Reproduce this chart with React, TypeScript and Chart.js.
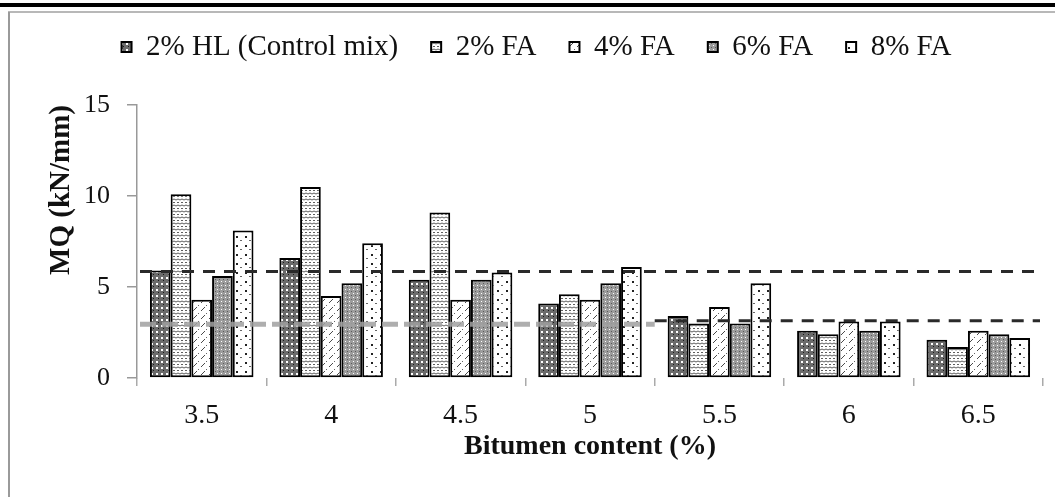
import React, { useEffect, useRef } from 'react';
import { Chart, registerables } from 'chart.js';

Chart.register(...registerables);

const categories = ['3.5', '4', '4.5', '5', '5.5', '6', '6.5'];
const seriesNames = ['2% HL (Control mix)', '2% FA', '4% FA', '6% FA', '8% FA'];
const hl2 = [5.9, 6.6, 5.4, 4.1, 3.4, 2.6, 2.1];
const fa2 = [10.1, 10.5, 9.1, 4.6, 3.0, 2.4, 1.7];
const fa4 = [4.3, 4.5, 4.3, 4.3, 3.9, 3.1, 2.6];
const fa6 = [5.6, 5.2, 5.4, 5.2, 3.0, 2.6, 2.4];
const fa8 = [8.1, 7.4, 5.8, 6.1, 5.2, 3.1, 2.2];
const yTicks = [0, 5, 10, 15];
const upperLimit = 5.85;
const lowerLimitEarly = 2.95;
const lowerLimitLate = 3.15;

const FONT = "'Liberation Serif', 'Times New Roman', serif";

function makePattern(kind: number): CanvasPattern | string {
  const c = document.createElement('canvas');
  const ctx = c.getContext('2d');
  if (!ctx) return '#888';
  if (kind === 0) {
    c.width = 5; c.height = 6;
    ctx.fillStyle = '#6b6b6b'; ctx.fillRect(0, 0, 5, 6);
    ctx.fillStyle = '#ffffff'; ctx.fillRect(1, 1, 2, 2);
    ctx.fillStyle = '#1a1a1a'; ctx.fillRect(3, 4, 1, 1);
  } else if (kind === 1) {
    c.width = 8; c.height = 6;
    ctx.fillStyle = '#ffffff'; ctx.fillRect(0, 0, 8, 6);
    ctx.strokeStyle = '#5e5e5e'; ctx.lineWidth = 1;
    ctx.beginPath();
    ctx.moveTo(0, 2); ctx.lineTo(2, 1); ctx.lineTo(4, 2); ctx.lineTo(6, 1); ctx.lineTo(8, 2);
    ctx.moveTo(1, 4.5); ctx.lineTo(3, 4.5);
    ctx.moveTo(5, 4.5); ctx.lineTo(7, 4.5);
    ctx.stroke();
  } else if (kind === 2) {
    c.width = 8; c.height = 8;
    ctx.fillStyle = '#ffffff'; ctx.fillRect(0, 0, 8, 8);
    ctx.strokeStyle = '#4a4a4a'; ctx.lineWidth = 1;
    ctx.beginPath();
    ctx.moveTo(1, 7); ctx.lineTo(5, 3);
    ctx.stroke();
    ctx.fillStyle = '#666'; ctx.fillRect(6, 1, 1, 1);
  } else if (kind === 3) {
    c.width = 4; c.height = 4;
    ctx.fillStyle = '#9c9c9c'; ctx.fillRect(0, 0, 4, 4);
    ctx.fillStyle = '#ffffff'; ctx.fillRect(1, 1, 1, 1);
    ctx.fillStyle = '#5a5a5a'; ctx.fillRect(3, 3, 1, 1);
  } else {
    c.width = 9; c.height = 9;
    ctx.fillStyle = '#ffffff'; ctx.fillRect(0, 0, 9, 9);
    ctx.fillStyle = '#222222'; ctx.fillRect(2, 2, 2, 2);
    ctx.fillStyle = '#666666'; ctx.fillRect(6, 6, 2, 1);
  }
  const p = ctx.createPattern(c, 'repeat');
  return p || '#888';
}

const framePlugin = {
  id: 'frame',
  beforeDraw(chart: any) {
    const ctx = chart.ctx;
    ctx.save();
    ctx.fillStyle = '#ffffff';
    ctx.fillRect(0, 0, chart.width, chart.height);
    ctx.fillStyle = '#000000';
    ctx.fillRect(0, 3, chart.width, 4);
    ctx.strokeStyle = '#b8b8b8';
    ctx.lineWidth = 2;
    ctx.beginPath();
    ctx.moveTo(8, 12);
    ctx.lineTo(chart.width, 12);
    ctx.stroke();
    ctx.strokeStyle = '#9a9a9a';
    ctx.beginPath();
    ctx.moveTo(9, 12);
    ctx.lineTo(9, chart.height);
    ctx.stroke();
    ctx.restore();
  },
};

const legendSpacer = {
  id: 'legendSpacer',
  beforeLayout(chart: any) {
    const lg = chart.legend;
    if (lg && !lg.__patched) {
      const orig = lg.fit;
      lg.fit = function () {
        orig.call(this);
        this.height += 33.5;
      };
      lg.__patched = true;
    }
  },
};

const refLinePlugin = {
  id: 'refLines',
  afterDatasetsDraw(chart: any) {
    const { ctx, chartArea } = chart;
    const xs = chart.scales.x;
    const ys = chart.scales.y;
    const left = chartArea.left + 3;
    const right = chartArea.right - 3;
    const boundary = (xs.getPixelForValue(3) + xs.getPixelForValue(4)) / 2;
    ctx.save();
    ctx.setLineDash([12, 9]);
    ctx.lineWidth = 3;
    ctx.strokeStyle = '#2a2a2a';
    let y = ys.getPixelForValue(upperLimit);
    ctx.beginPath(); ctx.moveTo(left, y); ctx.lineTo(right, y); ctx.stroke();
    ctx.setLineDash([16, 6]);
    ctx.lineWidth = 5;
    ctx.strokeStyle = 'rgba(160,160,160,0.85)';
    y = ys.getPixelForValue(lowerLimitEarly);
    ctx.beginPath(); ctx.moveTo(left, y); ctx.lineTo(boundary, y); ctx.stroke();
    ctx.setLineDash([12, 9]);
    ctx.lineWidth = 3;
    ctx.strokeStyle = '#2a2a2a';
    y = ys.getPixelForValue(lowerLimitLate);
    ctx.beginPath(); ctx.moveTo(boundary, y); ctx.lineTo(right, y); ctx.stroke();
    ctx.restore();
  },
};

export default function App() {
  const ref = useRef<HTMLCanvasElement | null>(null);

  useEffect(() => {
    if (!ref.current) return;
    const series = [hl2, fa2, fa4, fa6, fa8];
    const chart = new Chart(ref.current, {
      type: 'bar',
      data: {
        labels: categories,
        datasets: series.map((d, i) => ({
          label: seriesNames[i],
          data: d,
          backgroundColor: makePattern(i) as any,
          borderColor: '#000000',
          borderWidth: 2,
          borderSkipped: false,
          categoryPercentage: 0.8,
          barPercentage: 1.0,
        })),
      },
      options: {
        animation: false,
        responsive: true,
        maintainAspectRatio: false,
        layout: { padding: { top: -0.5, left: 30, right: 12, bottom: 0 } },
        plugins: {
          tooltip: { enabled: false },
          legend: {
            position: 'top',
            labels: {
              font: { family: FONT, size: 29 },
              color: '#111111',
              boxWidth: 10,
              boxHeight: 10,
              padding: 33,
            },
          },
        },
        scales: {
          x: {
            offset: true,
            grid: {
              offset: true,
              drawOnChartArea: false,
              drawTicks: true,
              tickLength: 8,
              color: '#aaaaaa',
              lineWidth: 1.5,
            },
            border: { display: false },
            ticks: { font: { family: FONT, size: 28 }, color: '#111111', padding: 13 },
            title: {
              display: true,
              text: 'Bitumen content (%)',
              font: { family: FONT, size: 28, weight: 'bold' },
              color: '#111111',
              padding: { top: 0, bottom: 33 },
            },
            afterFit: (s: any) => {
              s.height = 119;
            },
          },
          y: {
            min: 0,
            max: 15,
            afterBuildTicks: (s: any) => {
              s.ticks = yTicks.map((v) => ({ value: v }));
            },
            grid: {
              drawOnChartArea: false,
              drawTicks: true,
              tickLength: 10,
              color: '#999999',
              lineWidth: 1.5,
            },
            border: { display: true, color: '#999999', width: 1.5 },
            ticks: { font: { family: FONT, size: 26 }, color: '#111111', padding: 17 },
            title: {
              display: true,
              text: 'MQ (kN/mm)',
              align: 'end',
              font: { family: FONT, size: 29, weight: 'bold' },
              color: '#111111',
              padding: { top: 14, bottom: 0 },
            },
            afterFit: (s: any) => {
              s.width = 107;
            },
          },
        },
      } as any,
      plugins: [framePlugin, legendSpacer, refLinePlugin],
    });
    return () => chart.destroy();
  }, []);

  return (
    <div style={{ position: 'fixed', left: 0, top: 0, width: 1055, height: 497, background: '#fff' }}>
      <canvas ref={ref} />
    </div>
  );
}
